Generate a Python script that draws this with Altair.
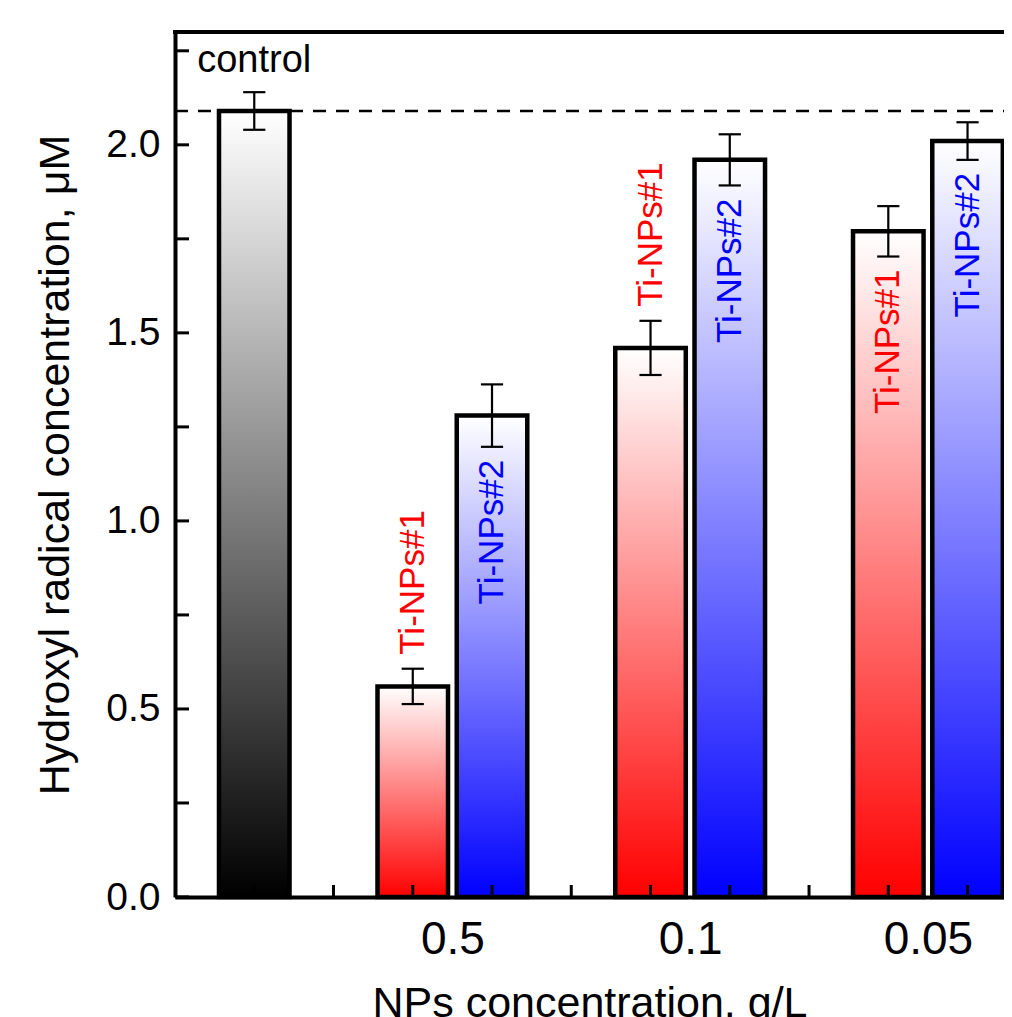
import altair as alt
import pandas as pd

# ---- data ----
bar_names = ["control", "Ti-NPs#1", "Ti-NPs#2", "Ti-NPs#1", "Ti-NPs#2", "Ti-NPs#1", "Ti-NPs#2"]
bar_series = ["control", "s1", "s2", "s1", "s2", "s1", "s2"]
bar_pos = [0, 2, 3, 5, 6, 8, 9]
bar_values = [2.09, 0.56, 1.28, 1.46, 1.96, 1.77, 2.01]
bar_errors = [0.05, 0.047, 0.083, 0.072, 0.068, 0.067, 0.05]
label_inside = [False, False, True, False, True, True, True]

group_labels = ["0.5", "0.1", "0.05"]
group_label_pos = [2.5, 5.5, 8.5]
control_level = 2.09
x_tick_values = [0, 1, 2, 3, 4, 5, 6, 7, 8, 9]
y_tick_values = [0, 0.25, 0.5, 0.75, 1.0, 1.25, 1.5, 1.75, 2.0, 2.25]
y_label_values = [0, 0.5, 1.0, 1.5, 2.0]

W, H = 829, 865
FONT = "Liberation Sans"
HALF = 0.445
CAP = 0.14

df = pd.DataFrame({
    "name": bar_names, "series": bar_series, "pos": bar_pos,
    "value": bar_values, "err": bar_errors, "inside": label_inside,
})
df["x1"] = df["pos"] - HALF
df["x2"] = df["pos"] + HALF
df["cl"] = df["pos"] - CAP
df["cr"] = df["pos"] + CAP
df["lo"] = df["value"] - df["err"]
df["hi"] = df["value"] + df["err"]
df["base"] = 0.0
df["anchor"] = [lo if ins else hi for lo, hi, ins in zip(df["lo"], df["hi"], df["inside"])]

xscale = alt.Scale(domain=[-1, 9.46], nice=False, zero=False)
yscale = alt.Scale(domain=[0, 2.3], nice=False)

label_expr = "[" + ",".join("'%s'" % s for s in group_labels) + "][indexof([" + \
    ",".join(str(v) for v in group_label_pos) + "], datum.value)]"

x_axis = alt.Axis(values=group_label_pos, labelExpr=label_expr, ticks=False, tickSize=0,
                  grid=False, domainColor="black", domainWidth=4,
                  labelFontSize=46, labelColor="black", labelPadding=20, labelFont=FONT,
                  title="NPs concentration, g/L", titleFontSize=43, titleFont=FONT,
                  titleFontWeight="normal", titleColor="black",
                  titleBaseline="alphabetic", titleY=119, titleX=W / 2)
y_axis = alt.Axis(values=y_label_values, format=".1f", ticks=False, tickSize=0,
                  grid=False, domainColor="black", domainWidth=4,
                  labelFontSize=39, labelColor="black", labelPadding=15, labelFont=FONT,
                  title="Hydroxyl radical concentration, μM", titleFontSize=43, titleFont=FONT,
                  titleFontWeight="normal", titleColor="black",
                  titleBaseline="alphabetic", titleX=-107, titleY=H / 2, titleAngle=270)


def grad(color):
    return alt.LinearGradient(
        gradient="linear", x1=0, x2=0, y1=1, y2=0,
        stops=[alt.GradientStop(offset=0, color=color),
               alt.GradientStop(offset=1, color="#ffffff")])


base = alt.Chart(df)

bar_layers = []
for s, c in [("control", "#000000"), ("s1", "#ff0000"), ("s2", "#0000ff")]:
    bar_layers.append(
        base.transform_filter(alt.datum.series == s).mark_rect(
            fill=grad(c), stroke="black", strokeWidth=4.5
        ).encode(
            x=alt.X("x1:Q", scale=xscale, axis=x_axis),
            x2="x2:Q",
            y=alt.Y("value:Q", scale=yscale, axis=y_axis),
            y2="base:Q",
        )
    )

dash = alt.Chart(pd.DataFrame({"level": [control_level]})).mark_rule(
    color="black", strokeWidth=2.5, strokeDash=[13, 10]
).encode(y=alt.Y("level:Q", scale=yscale), x=alt.value(0), x2=alt.value(W))

err_v = base.mark_rule(color="black", strokeWidth=2.2).encode(
    x=alt.X("pos:Q", scale=xscale), y=alt.Y("lo:Q", scale=yscale), y2="hi:Q")
err_top = base.mark_rule(color="black", strokeWidth=2.2).encode(
    x=alt.X("cl:Q", scale=xscale), x2="cr:Q", y=alt.Y("hi:Q", scale=yscale))
err_bot = base.mark_rule(color="black", strokeWidth=2.2).encode(
    x=alt.X("cl:Q", scale=xscale), x2="cr:Q", y=alt.Y("lo:Q", scale=yscale))

color_scale = alt.Scale(domain=["s1", "s2"], range=["#ff0000", "#0000ff"])
lab_out = base.transform_filter(
    (alt.datum.series != "control") & (alt.datum.inside == False)
).mark_text(angle=270, align="left", baseline="middle", dx=14, fontSize=35, font=FONT).encode(
    x=alt.X("pos:Q", scale=xscale), y=alt.Y("anchor:Q", scale=yscale), text="name:N",
    color=alt.Color("series:N", scale=color_scale, legend=None))
lab_in = base.transform_filter(
    (alt.datum.series != "control") & (alt.datum.inside == True)
).mark_text(angle=270, align="right", baseline="middle", dx=-13, fontSize=35, font=FONT).encode(
    x=alt.X("pos:Q", scale=xscale), y=alt.Y("anchor:Q", scale=yscale), text="name:N",
    color=alt.Color("series:N", scale=color_scale, legend=None))

lab_control = base.transform_filter(alt.datum.series == "control").mark_text(
    align="center", baseline="alphabetic", fontSize=38, font=FONT, color="black"
).encode(x=alt.X("pos:Q", scale=xscale), y=alt.value(40), text="name:N")

xt = alt.Chart(pd.DataFrame({"t": x_tick_values})).mark_rule(color="black", strokeWidth=3).encode(
    x=alt.X("t:Q", scale=xscale), y=alt.value(H), y2=alt.value(H - 12))
yt = alt.Chart(pd.DataFrame({"t": y_tick_values})).mark_rule(color="black", strokeWidth=3).encode(
    y=alt.Y("t:Q", scale=yscale), x=alt.value(0), x2=alt.value(14))
top_frame = alt.Chart(pd.DataFrame({"a": [0]})).mark_rule(color="black", strokeWidth=4).encode(
    y=alt.value(0), x=alt.value(-2), x2=alt.value(W))

chart = alt.layer(
    *bar_layers, dash, err_v, err_top, err_bot, lab_out, lab_in, lab_control, xt, yt, top_frame
).properties(
    width=W, height=H,
    autosize=alt.AutoSizeParams(type="none"),
    padding={"left": 167, "top": 24, "right": 0, "bottom": 120},
).configure_view(strokeWidth=0, stroke="transparent").configure(font=FONT, background="white")

chart.save("out.html", embed_options={"renderer": "svg", "actions": False})
